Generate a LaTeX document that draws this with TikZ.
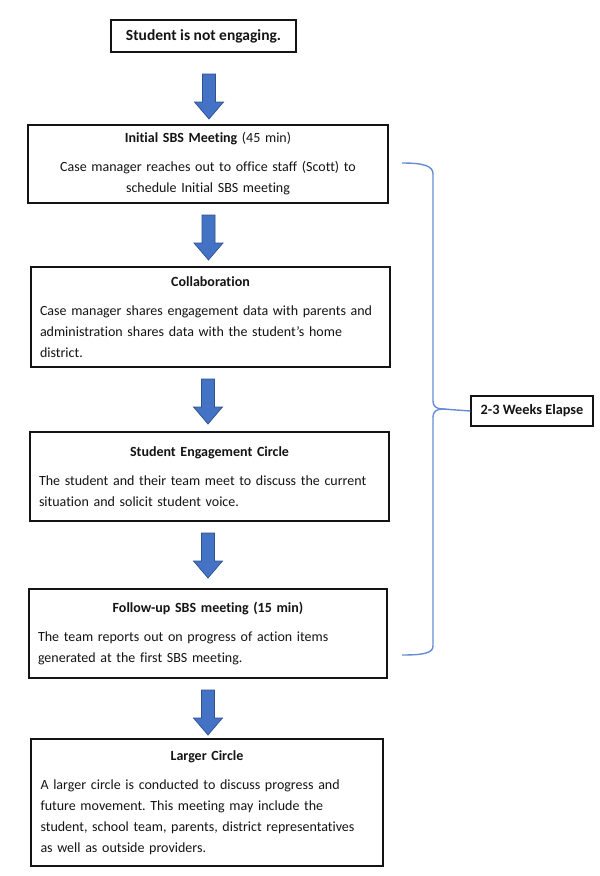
\documentclass[tikz,border=0pt]{standalone}
\usepackage{fontspec}
\setmainfont{Carlito}[Ligatures=NoCommon]
\frenchspacing
\definecolor{arrowblue}{RGB}{68,114,196}
\definecolor{arrowdark}{RGB}{47,82,143}
\definecolor{bracecol}{RGB}{100,140,215}
\definecolor{ink}{RGB}{20,20,20}
\begin{document}
\begin{tikzpicture}[x=1pt,y=-1pt,
  box/.style={draw=ink, line width=1.4pt, inner sep=0pt, text=ink,
    font=\fontsize{14}{21}\selectfont},
  bodybox/.style={box, align=left},
  brace/.style={draw=bracecol, line width=1.4pt},
  downarrow/.pic={\filldraw[fill=arrowblue, draw=arrowdark, line width=0.7pt]
    (-6.5,0) -- (-6.5,28) -- (-14.5,28) -- (0,45) -- (14.5,28) -- (6.5,28) -- (6.5,0) -- cycle;}]
\useasboundingbox[fill=white] (0,0) rectangle (600,876);

\node[box, minimum width=185, minimum height=32, font=\fontsize{15.5}{18}\selectfont\bfseries] (b1) at (203.5,36) {Student is not engaging.};

\node[box, minimum width=360, minimum height=78, align=center, text width=344] (b2) at (208,164)
  {\textbf{Initial SBS Meeting} (45 min)\\[8pt]
   Case manager reaches out to office staff (Scott) to\\
   schedule Initial SBS meeting};

\node[bodybox, minimum width=359, minimum height=100, text width=341] (b3) at (210.5,317)
  {\makebox[\linewidth][c]{\textbf{Collaboration}}\\[8pt]
   Case manager shares engagement data with parents and\\
   administration shares data with the student’s home\\
   district.};

\node[bodybox, minimum width=359, minimum height=89, text width=341] (b4) at (209.5,476.5)
  {\makebox[\linewidth][c]{\textbf{Student Engagement Circle}}\\[8pt]
   The student and their team meet to discuss the current\\
   situation and solicit student voice.};

\node[bodybox, minimum width=358, minimum height=89, text width=340] (b5) at (208,633.5)
  {\makebox[\linewidth][c]{\textbf{Follow-up SBS meeting (15 min)}}\\[8pt]
   The team reports out on progress of action items\\
   generated at the first SBS meeting.};

\node[bodybox, minimum width=352, minimum height=127, text width=333] (b6) at (207,802.5)
  {\makebox[\linewidth][c]{\textbf{Larger Circle}}\\[8pt]
   A larger circle is conducted to discuss progress and\\
   future movement. This meeting may include the\\
   student, school team, parents, district representatives\\
   as well as outside providers.};

\node[box, minimum width=122, minimum height=30, font=\fontsize{14.3}{16}\selectfont\bfseries] (lbl) at (532,411) {2-3 Weeks Elapse};

\pic (a1) at (209,74) {downarrow};
\pic (a2) at (208.5,215) {downarrow};
\pic (a3) at (208,379) {downarrow};
\pic (a4) at (208,533) {downarrow};
\pic (a5) at (208,690) {downarrow};

\coordinate (btop) at (402,163);
\coordinate (bcusp) at (443,409);
\coordinate (bbot) at (402,655);
\draw[brace] (btop) .. controls (424,163) and (433,166) .. (433,174) -- (433,401)
  .. controls (433,406) and (436,409) .. (bcusp)
  .. controls (436,409) and (433,412) .. (433,417) -- (433,646)
  .. controls (433,653) and (424,655) .. (bbot);
\draw[brace] (bcusp) -- (lbl.west);
\end{tikzpicture}
\end{document}
